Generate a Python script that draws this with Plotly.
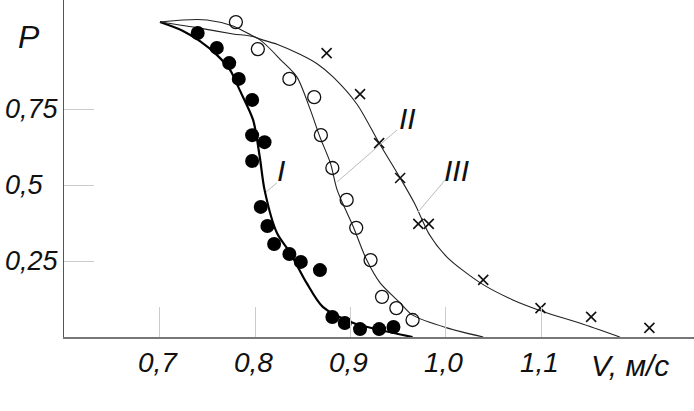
import plotly.graph_objects as go

# ---- data ----
# smooth curves
curve1_v = [0.7005, 0.7246, 0.742, 0.760, 0.774, 0.784, 0.798, 0.805, 0.810, 0.823, 0.837, 0.854, 0.871, 0.903, 0.931, 0.965]
curve1_p = [1.036, 1.007, 0.974, 0.928, 0.878, 0.812, 0.714, 0.592, 0.484, 0.342, 0.276, 0.178, 0.099, 0.046, 0.023, 0.0]

curve2_v = [0.7005, 0.742, 0.777, 0.802, 0.829, 0.844, 0.858, 0.868, 0.879, 0.886, 0.903, 0.917, 0.931, 0.952, 0.965, 1.001, 1.039]
curve2_p = [1.036, 1.016, 0.997, 0.984, 0.905, 0.855, 0.747, 0.658, 0.572, 0.484, 0.362, 0.253, 0.178, 0.112, 0.072, 0.030, 0.0]

curve3_v = [0.7005, 0.7246, 0.7497, 0.777, 0.802, 0.823, 0.847, 0.865, 0.882, 0.907, 0.930, 0.952, 0.967, 0.983, 1.001, 1.036, 1.070, 1.106, 1.140, 1.182]
curve3_p = [1.036, 1.043, 1.043, 1.023, 0.984, 0.963, 0.930, 0.899, 0.855, 0.765, 0.638, 0.523, 0.440, 0.335, 0.263, 0.178, 0.122, 0.079, 0.046, 0.0]

# experimental points
dots1_v = [0.740, 0.760, 0.773, 0.783, 0.797, 0.797, 0.810, 0.797, 0.806, 0.813, 0.820, 0.836, 0.848, 0.868, 0.881, 0.894, 0.910, 0.930, 0.945]
dots1_p = [1.000, 0.951, 0.901, 0.849, 0.780, 0.664, 0.641, 0.579, 0.428, 0.365, 0.306, 0.273, 0.247, 0.220, 0.066, 0.046, 0.026, 0.026, 0.033]

dots2_v = [0.780, 0.803, 0.836, 0.862, 0.869, 0.881, 0.896, 0.906, 0.921, 0.933, 0.948, 0.965]
dots2_p = [1.036, 0.947, 0.849, 0.789, 0.664, 0.556, 0.451, 0.359, 0.253, 0.132, 0.095, 0.056]

dots3_v = [0.875, 0.910, 0.930, 0.952, 0.971, 0.982, 1.039, 1.099, 1.152, 1.213]
dots3_p = [0.934, 0.799, 0.638, 0.523, 0.372, 0.372, 0.188, 0.095, 0.066, 0.030]

x_ticks = [0.7, 0.8, 0.9, 1.0, 1.1]
x_tick_text = ["0,7", "0,8", "0,9", "1,0", "1,1"]
y_ticks = [0.25, 0.5, 0.75]
y_tick_text = ["0,25", "0,5", "0,75"]

curve_names = ["I", "II", "III"]
# leader lines: (label position, line start, line end)
label_pos = [(0.827, 0.549), (0.960, 0.720), (1.0115, 0.549)]
leader_start = [(0.823, 0.507), (0.9487, 0.681), (0.999, 0.516)]
leader_end = [(0.8115, 0.477), (0.8859, 0.510), (0.9707, 0.411)]

X_RANGE = [0.6, 1.2597]
Y_RANGE = [0.0, 1.1086]

FONT = "Liberation Sans, Arial, sans-serif"
INK = "#111111"

fig = go.Figure()

fig.add_trace(go.Scatter(x=curve1_v, y=curve1_p, mode="lines",
                         line=dict(color="#000000", width=2.2, shape="spline", smoothing=0.8),
                         showlegend=False, hoverinfo="skip"))
fig.add_trace(go.Scatter(x=curve2_v, y=curve2_p, mode="lines",
                         line=dict(color="#222222", width=1.1, shape="spline", smoothing=0.8),
                         showlegend=False, hoverinfo="skip"))
fig.add_trace(go.Scatter(x=curve3_v, y=curve3_p, mode="lines",
                         line=dict(color="#222222", width=1.1, shape="spline", smoothing=0.8),
                         showlegend=False, hoverinfo="skip"))

fig.add_trace(go.Scatter(x=dots1_v, y=dots1_p, mode="markers",
                         marker=dict(symbol="circle", size=14, color="#000000"),
                         showlegend=False))
fig.add_trace(go.Scatter(x=dots2_v, y=dots2_p, mode="markers",
                         marker=dict(symbol="circle-open", size=13, color=INK,
                                     line=dict(width=1.3, color=INK)),
                         showlegend=False))
fig.add_trace(go.Scatter(x=dots3_v, y=dots3_p, mode="markers",
                         marker=dict(symbol="x-thin", size=10, color=INK,
                                     line=dict(width=1.6, color=INK)),
                         showlegend=False))

# leader lines
for (x0, y0), (x1, y1) in zip(leader_start, leader_end):
    fig.add_shape(type="line", xref="x", yref="y", x0=x0, y0=y0, x1=x1, y1=y1,
                  line=dict(color="#bbbbbb", width=1))

annotations = []
for name, (lx, ly) in zip(curve_names, label_pos):
    annotations.append(dict(x=lx, y=ly, xref="x", yref="y", text=name, showarrow=False,
                            font=dict(family=FONT, size=30, color=INK, style="italic"),
                            xanchor="center", yanchor="middle"))
# y tick labels, left-aligned at the left edge
for yv, yt in zip(y_ticks, y_tick_text):
    annotations.append(dict(x=0, y=yv, xref="paper", yref="y", text=yt, showarrow=False,
                            xshift=-61, xanchor="left", yanchor="middle",
                            font=dict(family=FONT, size=27, color=INK, style="italic")))
# x tick labels
for xv, xt in zip(x_ticks, x_tick_text):
    annotations.append(dict(x=xv, y=0, xref="x", yref="paper", text=xt, showarrow=False,
                            xshift=-2, yshift=-25, xanchor="center", yanchor="middle",
                            font=dict(family=FONT, size=28, color=INK, style="italic")))
# axis titles
annotations.append(dict(x=0, y=1.0, xref="paper", yref="paper", text="P", showarrow=False,
                        xshift=-35, yshift=-37, xanchor="center", yanchor="middle",
                        font=dict(family=FONT, size=32, color=INK, style="italic")))
annotations.append(dict(x=1.0, y=0, xref="paper", yref="paper", text="V, м/с", showarrow=False,
                        xshift=-64, yshift=-28, xanchor="center", yanchor="middle",
                        font=dict(family=FONT, size=30, color=INK, style="italic")))

fig.update_layout(
    width=694, height=411,
    margin=dict(l=64, r=0, t=0, b=74),
    paper_bgcolor="white", plot_bgcolor="white",
    annotations=annotations,
    xaxis=dict(range=X_RANGE, showgrid=False, zeroline=False,
               showline=True, linecolor="#777777", linewidth=2,
               ticks="inside", ticklen=30, tickcolor="#cccccc", tickwidth=1,
               tickvals=x_ticks, showticklabels=False),
    yaxis=dict(range=Y_RANGE, showgrid=False, zeroline=False,
               showline=True, linecolor="#555555", linewidth=1,
               ticks="inside", ticklen=30, tickcolor="#cccccc", tickwidth=1,
               tickvals=y_ticks, showticklabels=False),
)

fig.write_html("out.html", config={"displayModeBar": False},
               post_script="document.body.style.margin='0px';document.body.style.padding='0px';")
